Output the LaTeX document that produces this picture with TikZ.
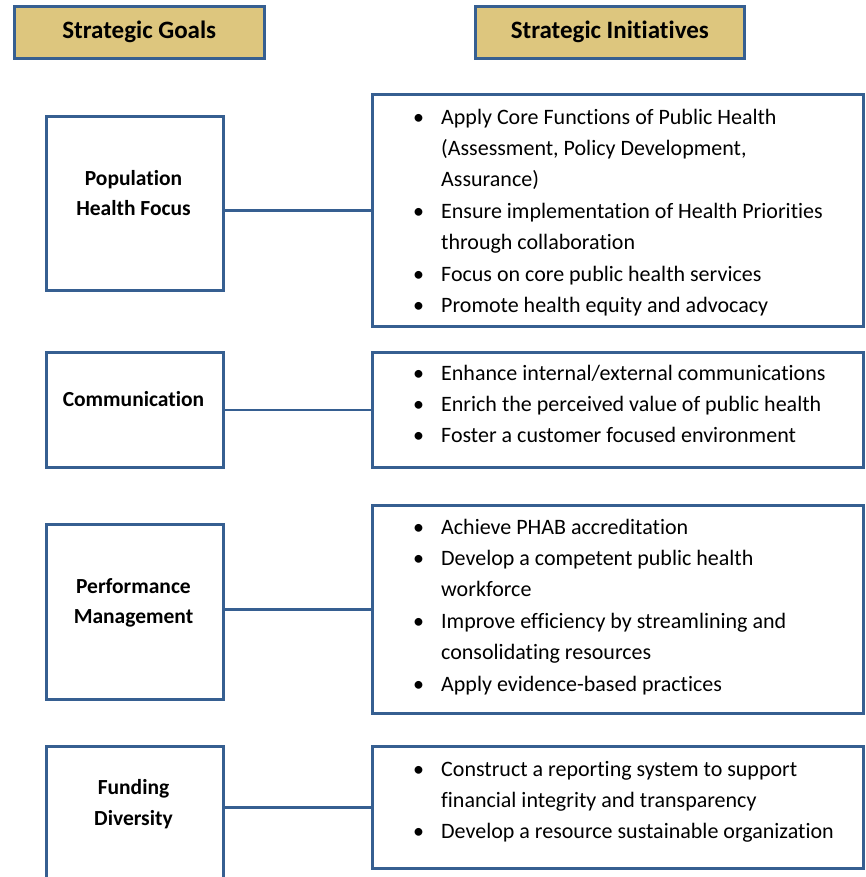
\documentclass[tikz,border=0pt]{standalone}
\usepackage{fontspec}
\setmainfont{Carlito}[Ligatures=NoCommon]
\definecolor{borderblue}{HTML}{365F91}
\definecolor{headtan}{HTML}{DDC67E}
% hanging bullet for the initiative lists
\newcommand{\bulmark}{\llap{\textbullet\hspace{17pt}}}
\begin{document}
\begin{tikzpicture}[x=1pt,y=-1pt,
  frame/.style={draw=borderblue, line width=2.6pt, rectangle, inner sep=0pt, anchor=north west},
  headbox/.style={frame, fill=headtan, font=\bfseries\fontsize{25}{28}\selectfont},
  goalbox/.style={frame, fill=white, minimum width=177pt},
  initbox/.style={frame, fill=white, minimum width=491pt},
  goaltext/.style={font=\bfseries\fontsize{21.5}{30.5}\selectfont, align=center, inner sep=0pt},
  bullettext/.style={font=\fontsize{22}{31.4}\selectfont, align=left, anchor=north west, inner sep=0pt},
  link/.style={draw=borderblue, line width=2.6pt}
]
\clip (0,0) rectangle (866,877);

% column headers
\node[headbox, minimum width=250pt, minimum height=52pt] (hgoals) at (13,5) {Strategic Goals};
\node[headbox, minimum width=269pt, minimum height=52pt] (hinit) at (474,5) {Strategic Initiatives};

% goal boxes
\node[goalbox, minimum height=174pt] (g1) at (45,115) {};
\node[goalbox, minimum height=115pt] (g2) at (45,351) {};
\node[goalbox, minimum height=175pt] (g3) at (45,523) {};
\node[goalbox, minimum height=160pt] (g4) at (45,745) {};

% initiative boxes
\node[initbox, minimum height=232pt] (i1) at (371,93) {};
\node[initbox, minimum height=115pt] (i2) at (371,351) {};
\node[initbox, minimum height=208pt] (i3) at (371,504) {};
\node[initbox, minimum height=122pt] (i4) at (371,745) {};

% connectors
\draw[link] (g1.east |- i1.west) -- (i1.west);
\draw[link] (g2.east |- i2.west) -- (i2.west);
\draw[link] (g3.east |- i3.west) -- (i3.west);
\draw[link] (g4.east |- i4.west) -- (i4.west);

% goal labels
\node[goaltext] (gt1) at (133.5,193) {Population\\Health Focus};
\node[goaltext] (gt2) at (133.5,399) {Communication};
\node[goaltext] (gt3) at (133.5,603) {Performance\\Management};
\node[goaltext] (gt4) at (133.5,804) {Funding\\Diversity};

% initiative lists
\node[bullettext] (l1) at (441,102) {\strut\bulmark Apply Core Functions of Public Health\\
(Assessment, Policy Development,\\
Assurance)\\
\bulmark Ensure implementation of Health Priorities\\
through collaboration\\
\bulmark Focus on core public health services\\
\bulmark Promote health equity and advocacy};

\node[bullettext] (l2) at (441,358) {\strut\bulmark Enhance internal/external communications\\
\bulmark Enrich the perceived value of public health\\
\bulmark Foster a customer focused environment};

\node[bullettext] (l3) at (441,512) {\strut\bulmark Achieve PHAB accreditation\\
\bulmark Develop a competent public health\\
workforce\\
\bulmark Improve efficiency by streamlining and\\
consolidating resources\\
\bulmark Apply evidence-based practices};

\node[bullettext] (l4) at (441,754) {\strut\bulmark Construct a reporting system to support\\
financial integrity and transparency\\
\bulmark Develop a resource sustainable organization};
\end{tikzpicture}
\end{document}
